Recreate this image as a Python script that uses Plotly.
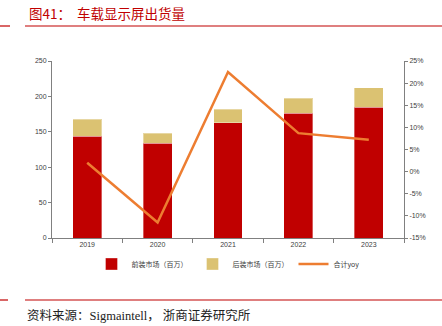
import plotly.graph_objects as go

years = ["2019", "2020", "2021", "2022", "2023"]
oem = [144, 134, 163, 176.5, 185]          # 前装市场（百万）
aftermarket = [23.5, 14, 19, 21, 27]       # 后装市场（百万）
yoy = [2.0, -11.5, 22.5, 8.7, 7.2]         # 合计yoy（%）

left_ticks = [0, 50, 100, 150, 200, 250]
right_ticks = [-15, -10, -5, 0, 5, 10, 15, 20, 25]

RED = "#C00000"
TAN = "#DBC272"
ORANGE = "#ED7D31"
GRID_GRAY = "#808080"
TICK_FONT = dict(family="Liberation Sans, Arial", size=7, color="#404040")
CJK = "Noto Sans CJK SC"

fig = go.Figure()
fig.add_trace(go.Bar(
    x=years, y=oem, name="前装市场（百万）",
    marker=dict(color=RED, line=dict(color="rgba(255,255,255,0.35)", width=1)),
    width=0.41,
))
fig.add_trace(go.Bar(
    x=years, y=aftermarket, name="后装市场（百万）",
    marker=dict(color=TAN, line=dict(color="rgba(255,255,255,0.35)", width=1)),
    width=0.41,
))
fig.add_trace(go.Scatter(
    x=years, y=yoy, name="合计yoy", yaxis="y2", mode="lines",
    line=dict(color=ORANGE, width=2.5),
))

fig.update_layout(
    width=442, height=326,
    margin=dict(l=52, r=38, t=61, b=88),
    paper_bgcolor="white", plot_bgcolor="white",
    barmode="stack",
    showlegend=True,
    legend=dict(
        orientation="h", x=0.5, xanchor="center", y=-0.065, yanchor="top",
        traceorder="normal",
        font=dict(family=CJK, size=7, color="#404040"),
        itemwidth=30, tracegroupgap=0,
    ),
    xaxis=dict(
        type="category", showline=True, linecolor=GRID_GRAY, linewidth=1,
        ticks="outside", tickson="boundaries", ticklen=4, tickcolor=GRID_GRAY,
        tickfont=TICK_FONT, showgrid=False, fixedrange=True,
    ),
    yaxis=dict(
        range=[0, 250], tickvals=left_ticks, showline=True, linecolor=GRID_GRAY,
        linewidth=1, ticks="outside", ticklen=3, tickcolor=GRID_GRAY,
        tickfont=TICK_FONT, showgrid=False, zeroline=False,
    ),
    yaxis2=dict(
        range=[-15, 25], tickvals=right_ticks,
        ticktext=[f"{v}%" for v in right_ticks],
        overlaying="y", side="right", showline=True, linecolor=GRID_GRAY,
        linewidth=1, ticks="outside", ticklen=3, tickcolor=GRID_GRAY,
        tickfont=TICK_FONT, showgrid=False, zeroline=False,
    ),
    font=dict(family=CJK),
)

# Header title and rule
fig.add_annotation(
    text="图41：  车载显示屏出货量", xref="paper", yref="paper",
    x=-25 / 352, y=1 + 48 / 177, xanchor="left", yanchor="middle",
    showarrow=False, font=dict(family=CJK, size=13.5, color="#C00000"),
)
fig.add_shape(type="line", xref="paper", yref="paper",
              x0=-27 / 352, x1=390 / 352, y0=1 + 35 / 177, y1=1 + 35 / 177,
              line=dict(color="#C00000", width=1.2))
fig.add_shape(type="line", xref="paper", yref="paper",
              x0=-52 / 352, x1=-42 / 352, y0=1 + 35 / 177, y1=1 + 35 / 177,
              line=dict(color="#C00000", width=1.2))

# Footer rule and source
fig.add_shape(type="line", xref="paper", yref="paper",
              x0=-27 / 352, x1=390 / 352, y0=-62 / 177, y1=-62 / 177,
              line=dict(color="#C00000", width=1.2))
fig.add_shape(type="line", xref="paper", yref="paper",
              x0=-52 / 352, x1=-44 / 352, y0=-62 / 177, y1=-62 / 177,
              line=dict(color="#C00000", width=1.2))
fig.add_annotation(
    text="资料来源：Sigmaintell， 浙商证券研究所", xref="paper", yref="paper",
    x=-27 / 352, y=-77 / 177, xanchor="left", yanchor="middle",
    showarrow=False, font=dict(family="Liberation Serif, " + CJK, size=12.5, color="#222222"),
)

fig.write_html("out.html")
